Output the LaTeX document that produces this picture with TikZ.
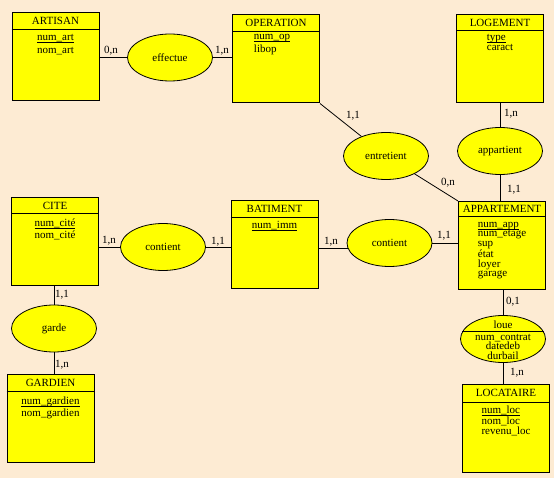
\documentclass[tikz,border=0pt]{standalone}
\usepackage{fontspec}
\setmainfont{Liberation Serif}
\usetikzlibrary{shapes.geometric, positioning, calc}
\definecolor{erBack}{HTML}{FDEBD3}
\definecolor{erYellow}{HTML}{FFFF00}
\newcommand\keyattr[1]{\underline{\raisebox{0pt}[\height][0pt]{#1}}}

\begin{document}
\begin{tikzpicture}[
    x=1pt, y=-1pt,
    entity/.style={
        draw=black, line width=1pt, fill=erYellow, inner sep=0pt,
        minimum width=87pt, minimum height=88pt
    },
    relation/.style={
        ellipse, draw=black, line width=0.8pt, fill=erYellow, inner sep=0pt,
        minimum width=85pt, minimum height=47pt, font=\fontsize{11}{12}\selectfont
    },
    enttitle/.style={font=\fontsize{11}{12}\selectfont, inner sep=0pt},
    attrs/.style={font=\fontsize{11}{#1}\selectfont, align=left, anchor=north, inner sep=0pt},
    attrs/.default=13,
    link/.style={draw=black, line width=0.8pt},
    card/.style={font=\fontsize{11}{12}\selectfont, inner sep=0pt},
]

\useasboundingbox (0,0) rectangle (554,478);
\fill[erBack] (0,0) rectangle (554,478);

% Entities
\node[entity] (artisan) at (55.5,57) {};
\draw[line width=1pt] ($(artisan.north west)+(0,17)$) -- ($(artisan.north east)+(0,17)$);
\node[enttitle] (artisanT) at ($(artisan.north)+(0,8.5)$) {ARTISAN};
\node[attrs] (artisanA) at ($(artisan.north)+(0,22)$) {\keyattr{num\_art}\\nom\_art};

\node[entity] (operation) at (276,59) {};
\draw[line width=1pt] ($(operation.north west)+(0,17)$) -- ($(operation.north east)+(0,17)$);
\node[enttitle] (operationT) at ($(operation.north)+(0,8.5)$) {OPERATION};
\node[attrs] (operationA) at ($(operation.north)+(-4,20)$) {\keyattr{num\_op}\\libop};

\node[entity] (logement) at (500,58.5) {};
\draw[line width=1pt] ($(logement.north west)+(0,17)$) -- ($(logement.north east)+(0,17)$);
\node[enttitle] (logementT) at ($(logement.north)+(0,8.5)$) {LOGEMENT};
\node[attrs=10.5] (logementA) at ($(logement.north)+(0,20)$) {\keyattr{type}\\caract};

\node[entity] (cite) at (55,241.5) {};
\draw[line width=1pt] ($(cite.north west)+(0,17)$) -- ($(cite.north east)+(0,17)$);
\node[enttitle] (citeT) at ($(cite.north)+(0,8.5)$) {CITE};
\node[attrs=11.5] (citeA) at ($(cite.north)+(0,22)$) {\keyattr{num\_cité}\\nom\_cité};

\node[entity] (batiment) at (274.5,245) {};
\draw[line width=1pt] ($(batiment.north west)+(0,17)$) -- ($(batiment.north east)+(0,17)$);
\node[enttitle] (batimentT) at ($(batiment.north)+(0,8.5)$) {BATIMENT};
\node[attrs] (batimentA) at ($(batiment.north)+(0,21)$) {\keyattr{num\_imm}};

\node[entity] (appart) at (502,245.5) {};
\draw[line width=1pt] ($(appart.north west)+(0,16)$) -- ($(appart.north east)+(0,16)$);
\node[enttitle] (appartT) at ($(appart.north)+(0,8)$) {APPARTEMENT};
\node[attrs=9.6] (appartA) at ($(appart.north)+(0,21)$) {\keyattr{num\_app}\\num\_etage\\sup\\état\\loyer\\garage};

\node[entity] (gardien) at (50.5,418.5) {};
\draw[line width=1pt] ($(gardien.north west)+(0,17)$) -- ($(gardien.north east)+(0,17)$);
\node[enttitle] (gardienT) at ($(gardien.north)+(0,8.5)$) {GARDIEN};
\node[attrs=12] (gardienA) at ($(gardien.north)+(0,23)$) {\keyattr{num\_gardien}\\nom\_gardien};

\node[entity] (locataire) at (506,428.5) {};
\draw[line width=1pt] ($(locataire.north west)+(0,18)$) -- ($(locataire.north east)+(0,18)$);
\node[enttitle] (locataireT) at ($(locataire.north)+(0,9)$) {LOCATAIRE};
\node[attrs=9.6] (locataireA) at ($(locataire.north)+(0,22)$) {\keyattr{num\_loc}\\nom\_loc\\revenu\_loc};

% Relations
\node[relation] (effectue) at (170,57.5) {effectue};
\node[relation] (entretient) at (386,156) {entretient};
\node[relation] (appartient) at (500,151) {appartient};
\node[relation] (contientC) at (163,247) {contient};
\node[relation] (garde) at (54,328.5) {garde};
\node[relation] (contientB) at (389.5,243) {contient};
\node[relation] (loue) at (503,339) {};
\draw[line width=0.8pt] (loue.170) -- (loue.10);
\node[enttitle] (loueT) at (503,325) {loue};
\node[attrs=9.5, align=center] (loueA) at (503,334) {num\_contrat\\datedeb\\durbail};

% Links
\draw[link] (artisan.east |- effectue.west) -- (effectue.west);
\draw[link] (effectue.east) -- (effectue.east -| operation.west);
\draw[link] (operation.south east) -- (entretient);
\draw[link] (entretient) -- (appart.north west);
\draw[link] (logement) -- (appartient);
\draw[link] (appartient.south) -- (appartient.south |- appart.north);
\draw[link] (cite.east |- contientC.west) -- (contientC.west);
\draw[link] (contientC.east) -- (contientC.east -| batiment.west);
\draw[link] (batiment.east |- contientB.188) -- (contientB.188);
\draw[link] (contientB.east) -- (contientB.east -| appart.west);
\draw[link] (cite.south -| garde.north) -- (garde.north);
\draw[link] (garde.south) -- (garde.south |- gardien.north);
\draw[link] (appart.south -| loue.north) -- (loue.north);
\draw[link] (loue.south) -- (loue.south |- locataire.north);

% Cardinalities
\node[card] (c1) at (111,51) {0,n};
\node[card] (c2) at (222,51) {1,n};
\node[card] (c3) at (353,116) {1,1};
\node[card] (c4) at (448,183) {0,n};
\node[card] (c5) at (511,114) {1,n};
\node[card] (c6) at (514,190) {1,1};
\node[card] (c7) at (109,241) {1,n};
\node[card] (c8) at (218,242) {1,1};
\node[card] (c9) at (62,295) {1,1};
\node[card] (c10) at (62,365) {1,n};
\node[card] (c11) at (331,242) {1,n};
\node[card] (c12) at (444,236) {1,1};
\node[card] (c13) at (513,302) {0,1};
\node[card] (c14) at (517,373) {1,n};

\end{tikzpicture}
\end{document}
